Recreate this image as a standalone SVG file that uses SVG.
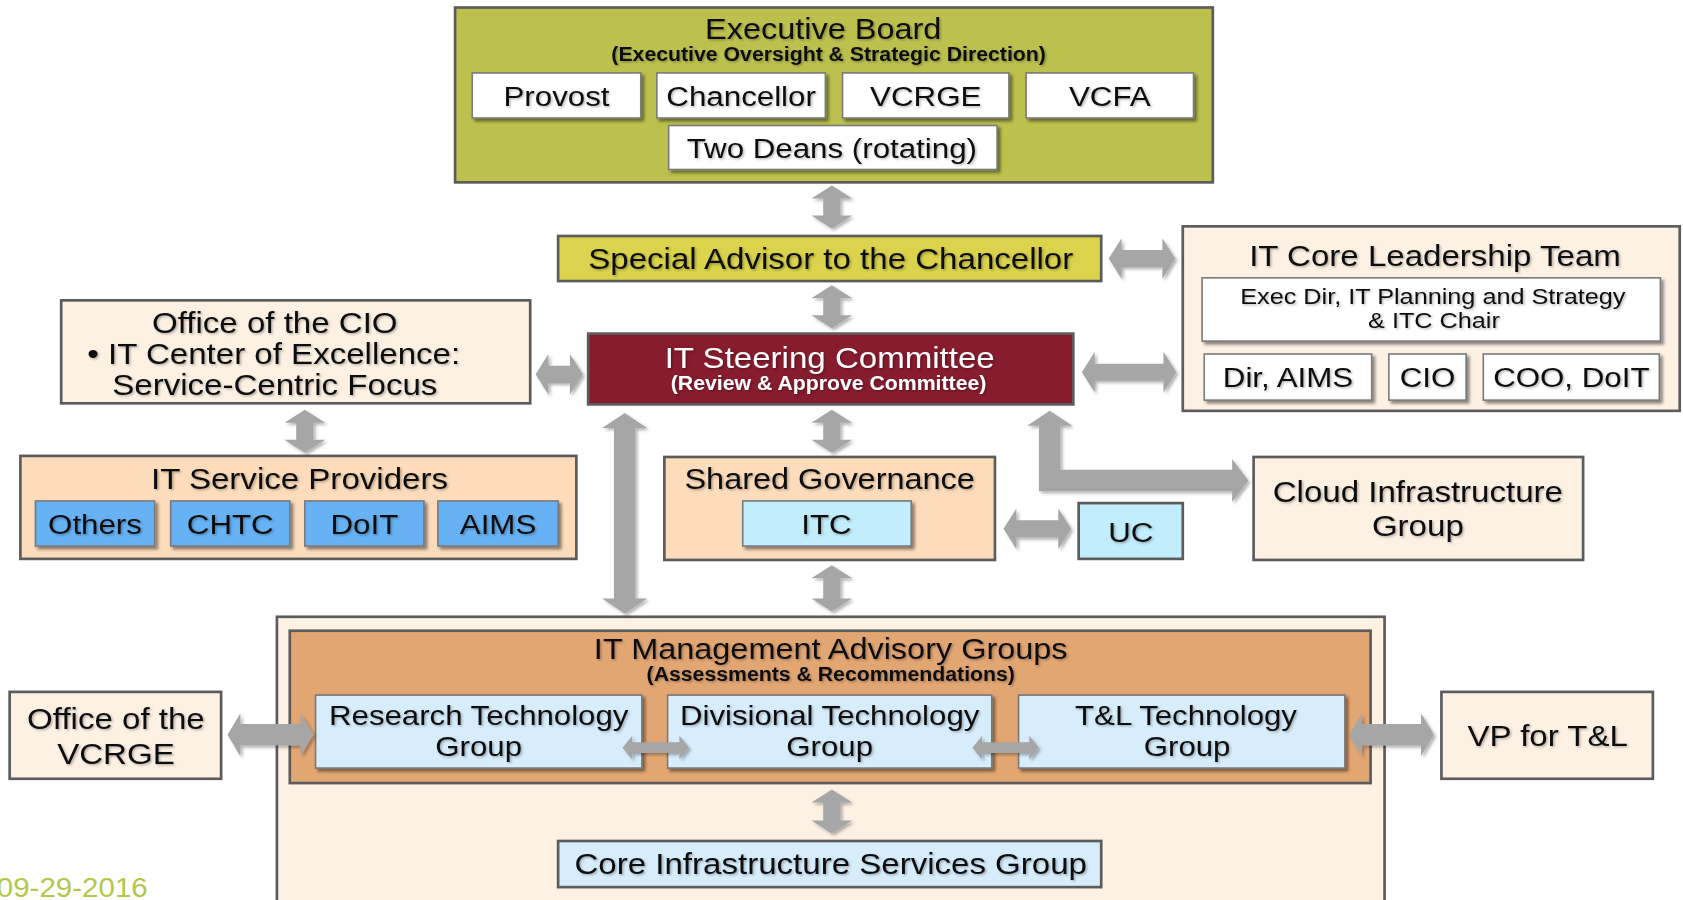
<svg xmlns="http://www.w3.org/2000/svg" width="1683" height="900" viewBox="0 0 1683 900">
<defs>
<filter id="bs" x="-10%" y="-10%" width="120%" height="130%"><feDropShadow dx="2.5" dy="2.5" stdDeviation="1.5" flood-color="#000" flood-opacity="0.45"/></filter>
<filter id="as" x="-20%" y="-20%" width="140%" height="140%"><feDropShadow dx="2" dy="2" stdDeviation="1.5" flood-color="#000" flood-opacity="0.3"/></filter>
<filter id="ts" x="-5%" y="-20%" width="110%" height="140%"><feDropShadow dx="1.2" dy="1.2" stdDeviation="0.8" flood-color="#000" flood-opacity="0.3"/></filter>
</defs>
<style>
.box{stroke:#5c5c5c;stroke-width:2.5}
.in{stroke:#7a7a7a;stroke-width:1.5;filter:url(#bs)}
.lp{fill:#fdf1e4}
.pc{fill:#fcdcbb}
.wh{fill:#ffffff}
.bl{fill:#66b2f5}
.cy{fill:#c1edfc}
.lb{fill:#d7edfc}
.t{font-family:"Liberation Sans",Arial,sans-serif;fill:#111;text-anchor:middle;filter:url(#ts)}
.b{font-weight:bold}
.w{fill:#ffffff}
.arr{fill:#a6a6a6;filter:url(#as)}
</style>
<rect width="1683" height="900" fill="#ffffff"/>
<g transform="scale(1.0733 1.0727)">
<g id="nodes">
<g id="exec-board">
<rect class="box" x="424" y="7" width="706" height="163" fill="#bcc14e"/>
<text class="t" font-size="27.5" transform="translate(767 36) scale(1.1 1)">Executive Board</text>
<text class="t b" font-size="18" transform="translate(772 57) scale(1.1 1)">(Executive Oversight &amp; Strategic Direction)</text>
</g>
<g id="provost"><rect class="in wh" x="440" y="68" width="157" height="42"/><text class="t" font-size="26.5" transform="translate(518.5 98.5) scale(1.1 1)">Provost</text></g>
<g id="chancellor"><rect class="in wh" x="612" y="68" width="157" height="42"/><text class="t" font-size="26.5" transform="translate(690.5 98.5) scale(1.1 1)">Chancellor</text></g>
<g id="vcrge"><rect class="in wh" x="785" y="68" width="155" height="42"/><text class="t" font-size="26.5" transform="translate(862.5 98.5) scale(1.1 1)">VCRGE</text></g>
<g id="vcfa"><rect class="in wh" x="956" y="68" width="156" height="42"/><text class="t" font-size="26.5" transform="translate(1034 98.5) scale(1.1 1)">VCFA</text></g>
<g id="two-deans"><rect class="in wh" x="623" y="117" width="306" height="41"/><text class="t" font-size="26.5" transform="translate(775 147) scale(1.1 1)">Two Deans (rotating)</text></g>

<g id="special-advisor"><rect class="box" x="520" y="220" width="506" height="42" fill="#dad34b"/><text class="t" font-size="28" transform="translate(774 251) scale(1.1 1)">Special Advisor to the Chancellor</text></g>

<g id="it-core-leadership">
<rect class="box lp" x="1102" y="211" width="463" height="172"/>
<text class="t" font-size="28" transform="translate(1337 248) scale(1.1 1)">IT Core Leadership Team</text>
<rect class="in wh" x="1120" y="259" width="427" height="59"/>
<text class="t" font-size="21" transform="translate(1335 283) scale(1.12 1)">Exec Dir, IT Planning and Strategy</text>
<text class="t" font-size="21" transform="translate(1336 306) scale(1.12 1)">&amp; ITC Chair</text>
</g>
<g id="dir-aims"><rect class="in wh" x="1122" y="330" width="156" height="43"/><text class="t" font-size="26.5" transform="translate(1200 361) scale(1.1 1)">Dir, AIMS</text></g>
<g id="cio"><rect class="in wh" x="1294" y="330" width="72" height="43"/><text class="t" font-size="26.5" transform="translate(1330 361) scale(1.1 1)">CIO</text></g>
<g id="coo-doit"><rect class="in wh" x="1382" y="330" width="164" height="43"/><text class="t" font-size="26.5" transform="translate(1464 361) scale(1.1 1)">COO, DoIT</text></g>

<g id="it-steering">
<rect class="box" x="548" y="311" width="452" height="66" fill="#861c2e"/>
<text class="t w" font-size="28" transform="translate(773 343) scale(1.1 1)">IT Steering Committee</text>
<text class="t w b" font-size="18" transform="translate(772 364) scale(1.1 1)">(Review &amp; Approve Committee)</text>
</g>

<g id="office-cio">
<rect class="box lp" x="57" y="280" width="437" height="96"/>
<text class="t" font-size="28" transform="translate(256 310) scale(1.1 1)">Office of the CIO</text>
<text class="t" font-size="28" transform="translate(255 339) scale(1.1 1)">• IT Center of Excellence:</text>
<text class="t" font-size="28" transform="translate(256 368) scale(1.1 1)">Service-Centric Focus</text>
</g>

<g id="it-service-providers">
<rect class="box pc" x="19" y="425" width="518" height="96"/>
<text class="t" font-size="28" transform="translate(279 456) scale(1.1 1)">IT Service Providers</text>
</g>
<g id="others"><rect class="in bl" x="33" y="467" width="111" height="42"/><text class="t" font-size="26.5" transform="translate(88.5 498) scale(1.1 1)">Others</text></g>
<g id="chtc"><rect class="in bl" x="159" y="467" width="111" height="42"/><text class="t" font-size="26.5" transform="translate(214.5 498) scale(1.1 1)">CHTC</text></g>
<g id="doit"><rect class="in bl" x="284" y="467" width="111" height="42"/><text class="t" font-size="26.5" transform="translate(339.5 498) scale(1.1 1)">DoIT</text></g>
<g id="aims"><rect class="in bl" x="408" y="467" width="112" height="42"/><text class="t" font-size="26.5" transform="translate(464 498) scale(1.1 1)">AIMS</text></g>

<g id="shared-governance">
<rect class="box pc" x="619" y="426" width="308" height="96"/>
<text class="t" font-size="27.5" transform="translate(773 456) scale(1.1 1)">Shared Governance</text>
</g>
<g id="itc"><rect class="in cy" x="692" y="467" width="157" height="42"/><text class="t" font-size="26.5" transform="translate(770 498) scale(1.1 1)">ITC</text></g>
<g id="uc"><rect class="box cy" x="1005" y="469" width="97" height="52"/><text class="t" font-size="26.5" transform="translate(1053.5 505) scale(1.1 1)">UC</text></g>

<g id="cloud-infrastructure">
<rect class="box lp" x="1168" y="426" width="307" height="96"/>
<text class="t" font-size="28" transform="translate(1321 468) scale(1.1 1)">Cloud Infrastructure</text>
<text class="t" font-size="28" transform="translate(1321 500) scale(1.1 1)">Group</text>
</g>

<g id="outer-group"><rect class="box lp" x="258" y="575" width="1032" height="290"/></g>

<g id="it-management-advisory">
<rect class="box" x="270" y="588" width="1007" height="142" fill="#e2a673"/>
<text class="t" font-size="27.5" transform="translate(774 614) scale(1.1 1)">IT Management Advisory Groups</text>
<text class="t b" font-size="18" transform="translate(774 635) scale(1.1 1)">(Assessments &amp; Recommendations)</text>
</g>
<g id="research-tech"><rect class="in lb" x="294" y="648" width="304" height="68"/><text class="t" font-size="25.5" transform="translate(446 675.5) scale(1.14 1)">Research Technology</text><text class="t" font-size="25.5" transform="translate(446 705) scale(1.14 1)">Group</text></g>
<g id="divisional-tech"><rect class="in lb" x="622" y="648" width="302" height="68"/><text class="t" font-size="25.5" transform="translate(773 675.5) scale(1.14 1)">Divisional Technology</text><text class="t" font-size="25.5" transform="translate(773 705) scale(1.14 1)">Group</text></g>
<g id="tl-tech"><rect class="in lb" x="949" y="648" width="304" height="68"/><text class="t" font-size="25.5" transform="translate(1105 675.5) scale(1.14 1)">T&amp;L Technology</text><text class="t" font-size="25.5" transform="translate(1106 705) scale(1.14 1)">Group</text></g>

<g id="office-vcrge">
<rect class="box lp" x="9" y="645" width="197" height="81"/>
<text class="t" font-size="28" transform="translate(108 680) scale(1.1 1)">Office of the</text>
<text class="t" font-size="28" transform="translate(108 712) scale(1.1 1)">VCRGE</text>
</g>
<g id="vp-tl">
<rect class="box lp" x="1343" y="645" width="197" height="81"/>
<text class="t" font-size="28" transform="translate(1442 695) scale(1.1 1)">VP for T&amp;L</text>
</g>
<g id="core-infrastructure">
<rect class="box lb" x="520" y="784" width="506" height="43"/>
<text class="t" font-size="28" transform="translate(774 815) scale(1.1 1)">Core Infrastructure Services Group</text>
</g>
</g>

<g id="connectors">
<path class="arr" d="M775 173 L794 185 L783 185 L783 201 L794 201 L775 213 L756 201 L767 201 L767 185 L756 185 Z"/>
<path class="arr" d="M775 266 L794 278 L783 278 L783 294 L794 294 L775 306 L756 294 L767 294 L767 278 L756 278 Z"/>
<path class="arr" d="M775 382 L794 394 L783 394 L783 410 L794 410 L775 422 L756 410 L767 410 L767 394 L756 394 Z"/>
<path class="arr" d="M775 527 L794 539 L783 539 L783 558 L794 558 L775 570 L756 558 L767 558 L767 539 L756 539 Z"/>
<path class="arr" d="M775 736 L794 748 L783 748 L783 765 L794 765 L775 777 L756 765 L767 765 L767 748 L756 748 Z"/>
<path class="arr" d="M284 382 L303 394 L292 394 L292 410 L303 410 L284 422 L265 410 L276 410 L276 394 L265 394 Z"/>
<path class="arr" d="M582 385 L603 399 L592 399 L592 558 L603 558 L582 572 L561 558 L572 558 L572 399 L561 399 Z"/>
<path class="arr" d="M499 349 L511 330 L511 341 L531 341 L531 330 L543 349 L531 368 L531 357 L511 357 L511 368 Z"/>
<path class="arr" d="M1033 241 L1045 222 L1045 233 L1083 233 L1083 222 L1095 241 L1083 260 L1083 249 L1045 249 L1045 260 Z"/>
<path class="arr" d="M1008 347 L1020 328 L1020 339 L1084 339 L1084 328 L1096 347 L1084 366 L1084 355 L1020 355 L1020 366 Z"/>
<path class="arr" d="M935 493 L947 474 L947 485 L986 485 L986 474 L998 493 L986 512 L986 501 L947 501 L947 512 Z"/>
<path class="arr" d="M212 685 L224 665 L224 675 L280 675 L280 665 L292 685 L280 705 L280 695 L224 695 L224 705 Z"/>
<path class="arr" d="M1257 685 L1269 665 L1269 675 L1324 675 L1324 665 L1336 685 L1324 705 L1324 695 L1269 695 L1269 705 Z"/>
<path class="arr" d="M580 697 L589 686 L589 692 L633 692 L633 686 L642 697 L633 708 L633 702 L589 702 L589 708 Z"/>
<path class="arr" d="M906 697 L915 686 L915 692 L959 692 L959 686 L968 697 L959 708 L959 702 L915 702 L915 708 Z"/>
<path class="arr" d="M978 383 L999 397 L988 397 L988 438 L1148 438 L1148 428 L1163 448 L1148 468 L1148 458 L968 458 L968 397 L957 397 Z"/>
</g>

<text font-family="Liberation Sans, Arial, sans-serif" font-size="25" fill="#b3c74a" transform="translate(-3 836) scale(1.1 1)">09-29-2016</text>
</g>
</svg>
